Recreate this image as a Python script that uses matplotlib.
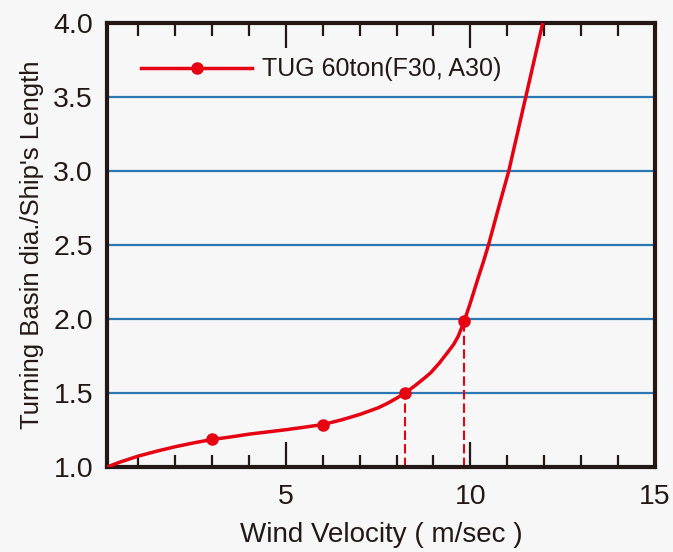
import matplotlib
matplotlib.use("Agg")
import matplotlib.pyplot as plt
from matplotlib.ticker import FixedLocator

plt.rcParams['font.family'] = ['Liberation Sans', 'DejaVu Sans']

# Curve
wind = [0.15, 0.5, 1.0, 1.5, 2.0, 2.5, 3.0, 3.5, 4.0, 4.5, 5.0, 5.5, 6.0, 6.5, 7.0, 7.5,
        7.75, 8.0, 8.23, 8.5, 8.75, 8.92, 9.15, 9.4, 9.55, 9.67, 9.83, 10.0, 10.1, 10.2,
        10.35, 10.49, 10.75, 11.04, 11.27, 11.5, 11.73, 11.96, 12.0]
ratio = [1.0, 1.033, 1.074, 1.107, 1.137, 1.163, 1.186, 1.203, 1.222, 1.237, 1.252, 1.269,
         1.287, 1.318, 1.355, 1.40, 1.43, 1.465, 1.50, 1.55, 1.60, 1.636, 1.70, 1.78, 1.83,
         1.883, 1.984, 2.11, 2.19, 2.27, 2.385, 2.50, 2.74, 3.0, 3.25, 3.5, 3.75, 4.0, 4.04]

# Marked points
mark_x = [3.0, 6.0, 8.23, 9.83]
mark_y = [1.186, 1.287, 1.50, 1.984]

# Dashed drop lines
drop_x = [8.23, 9.83]
drop_y = [1.50, 1.984]

grid_y = [1.5, 2.0, 2.5, 3.0, 3.5]
y_ticks = [1.0, 1.5, 2.0, 2.5, 3.0, 3.5, 4.0]
y_labels = ['1.0', '1.5', '2.0', '2.5', '3.0', '3.5', '4.0']
x_major = [5, 10, 15]
x_minor = [1, 2, 3, 4, 6, 7, 8, 9, 11, 12, 13, 14]
label = "TUG 60ton(F30, A30)"

RED = '#e60012'
BLUE = '#2b78b5'
DARK = '#231815'
BG = '#f7f7f7'

fig = plt.figure(figsize=(6.73, 5.52), dpi=100, facecolor=BG)
ax = fig.add_axes([0.159, 0.154, 0.814, 0.804], facecolor=BG)

for g in grid_y:
    ax.axhline(g, color=BLUE, lw=1.6, zorder=1)

for dx, dy in zip(drop_x, drop_y):
    ax.plot([dx, dx], [1.0, dy], color=RED, lw=1.5, ls=(0, (4.5, 2)), zorder=2)

ax.plot(wind, ratio, color=RED, lw=2.5, zorder=3, solid_joinstyle='round')
ax.plot(mark_x, mark_y, 'o', color=RED, ms=8, zorder=4)

ax.plot([], [], color=RED, lw=2.5, marker='o', ms=8, label=label)
leg = ax.legend(loc='center left', bbox_to_anchor=(0.062, 0.896), frameon=False,
                fontsize=18, handlelength=4.45, handletextpad=0.4, borderpad=0,
                borderaxespad=0)
for t in leg.get_texts():
    t.set_color(DARK)

ax.set_xlim(0.15, 15)
ax.set_ylim(1.0, 4.0)

ax.xaxis.set_major_locator(FixedLocator(x_major))
ax.xaxis.set_minor_locator(FixedLocator(x_minor))
ax.tick_params(axis='x', which='major', direction='in', top=True, bottom=True,
               length=18, width=1.6, color=DARK, labelsize=20.5, labelcolor=DARK, pad=12)
ax.tick_params(axis='x', which='minor', direction='in', top=True, bottom=True,
               length=9, width=1.6, color=DARK)
ax.xaxis.get_major_ticks()[-1].tick1line.set_visible(False)
ax.xaxis.get_major_ticks()[-1].tick2line.set_visible(False)

ax.set_yticks(y_ticks)
ax.set_yticklabels(y_labels)
ax.tick_params(axis='y', which='both', length=0, labelsize=20.5, labelcolor=DARK, pad=10)

for s in ax.spines.values():
    s.set_linewidth(3.0)
    s.set_color(DARK)

ax.set_xlabel('Wind Velocity ( m/sec )', fontsize=20, color=DARK, labelpad=9)
ax.set_ylabel("Turning Basin dia./Ship's Length", fontsize=18.5, color=DARK, labelpad=7)

fig.savefig('out.png', dpi=100, facecolor=BG)
